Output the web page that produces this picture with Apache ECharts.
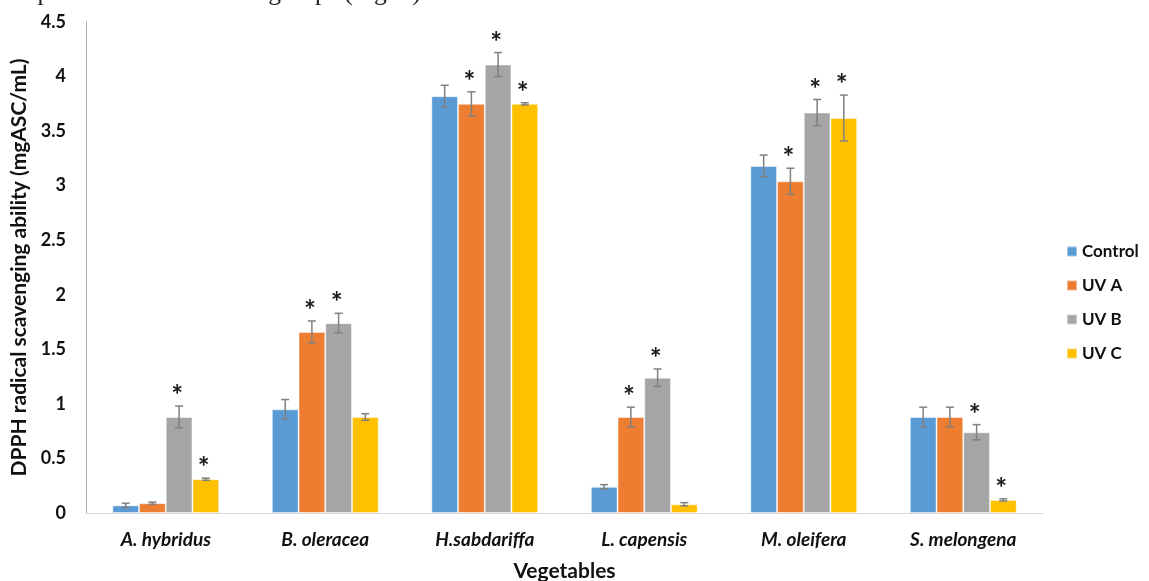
<!DOCTYPE html>
<html>
<head>
<meta charset="utf-8">
<style>
  html, body { margin: 0; padding: 0; background: #fff; }
  #chart { width: 1149px; height: 581px; }
</style>
<script src="https://cdn.jsdelivr.net/npm/echarts@6/dist/echarts.min.js"></script>
</head>
<body>
<div id="chart"></div>
<script>
// Vegetables and DPPH radical scavenging ability (mgASC/mL) per treatment
const categories = ['A. hybridus', 'B. oleracea', 'H.sabdariffa', 'L. capensis', 'M. oleifera', 'S. melongena'];
const seriesNames = ['Control', 'UV A', 'UV B', 'UV C'];

const controlValues = [0.07, 0.95, 3.82, 0.24, 3.18, 0.88];
const uvAValues     = [0.09, 1.66, 3.75, 0.88, 3.04, 0.88];
const uvBValues     = [0.88, 1.74, 4.11, 1.24, 3.67, 0.74];
const uvCValues     = [0.31, 0.88, 3.75, 0.08, 3.62, 0.12];

// standard error for each bar
const controlErr = [0.02, 0.09, 0.10, 0.02, 0.10, 0.09];
const uvAErr     = [0.01, 0.10, 0.11, 0.09, 0.12, 0.09];
const uvBErr     = [0.10, 0.09, 0.11, 0.08, 0.12, 0.07];
const uvCErr     = [0.01, 0.03, 0.01, 0.015, 0.21, 0.01];

// 1 = significant difference from control (marked with *)
const controlSig = [0, 0, 0, 0, 0, 0];
const uvASig     = [0, 1, 1, 1, 1, 0];
const uvBSig     = [1, 1, 1, 1, 1, 1];
const uvCSig     = [1, 0, 1, 0, 1, 1];

const yTicks = { min: 0, max: 4.5, interval: 0.5 };

const colors = ['#5B9BD5', '#ED7D31', '#A5A5A5', '#FFC000'];
const groupValues = [controlValues, uvAValues, uvBValues, uvCValues];
const groupErr = [controlErr, uvAErr, uvBErr, uvCErr];
const groupSig = [controlSig, uvASig, uvBSig, uvCSig];

const CATEGORY_GAP = 0.33;
const FONT = 'Lato, "Open Sans", sans-serif';

const barSeries = seriesNames.map((name, i) => ({
  name: name,
  type: 'bar',
  data: groupValues[i],
  barGap: '0%',
  barCategoryGap: (CATEGORY_GAP * 100) + '%',
  itemStyle: { color: colors[i], borderColor: 'rgba(255,255,255,0.45)', borderWidth: 1 },
  z: 2
}));

// error bars and significance stars, aligned with each bar of the group
const errorSeries = seriesNames.map((name, i) => ({
  name: name + ' error',
  type: 'custom',
  z: 5,
  silent: true,
  data: categories.map((c, k) => [k, groupValues[i][k], groupErr[i][k], groupSig[i][k]]),
  renderItem: function (params, api) {
    const idx = api.value(0);
    const v = api.value(1);
    const e = api.value(2);
    const sig = api.value(3);
    const band = api.size([1, 0])[0];
    const barW = band * (1 - CATEGORY_GAP) / seriesNames.length;
    const dx = (i - (seriesNames.length - 1) / 2) * barW;
    const hi = api.coord([idx, v + e]);
    const lo = api.coord([idx, v - e]);
    const x = hi[0] + dx;
    const cap = 4;
    const style = { stroke: '#808080', lineWidth: 1.5 };
    const children = [
      { type: 'line', shape: { x1: x, y1: hi[1], x2: x, y2: lo[1] }, style: style },
      { type: 'line', shape: { x1: x - cap, y1: hi[1], x2: x + cap, y2: hi[1] }, style: style },
      { type: 'line', shape: { x1: x - cap, y1: lo[1], x2: x + cap, y2: lo[1] }, style: style }
    ];
    if (sig) {
      children.push({
        type: 'text',
        style: {
          text: '*', x: x - 2, y: hi[1] - 10,
          fill: '#1a1a1a', font: 'bold 28px ' + FONT,
          textAlign: 'center', textVerticalAlign: 'middle'
        }
      });
    }
    return { type: 'group', children: children };
  }
}));

const chart = echarts.init(document.getElementById('chart'), null, { renderer: 'canvas' });
chart.setOption({
  animation: false,
  color: colors,
  textStyle: { fontFamily: FONT },
  graphic: [{
    type: 'text',
    x: 427, y: -7,
    style: {
      text: 'compared with the control groups (Fig. 4).',
      font: '25.5px "Liberation Serif", serif',
      fill: '#222',
      textAlign: 'right',
      textVerticalAlign: 'middle'
    }
  }],
  grid: { left: 86, right: 106, top: 22, bottom: 68, outerBoundsMode: 'none', containLabel: false },
  legend: {
    orient: 'vertical',
    left: 1066,
    top: 243,
    padding: 0,
    data: seriesNames,
    icon: 'rect',
    itemWidth: 10,
    itemHeight: 10,
    itemGap: 17,
    textStyle: { fontSize: 17, fontWeight: 'bold', color: '#111', lineHeight: 17, fontFamily: FONT }
  },
  xAxis: {
    type: 'category',
    data: categories,
    name: 'Vegetables',
    nameLocation: 'middle',
    nameGap: 48,
    nameTextStyle: { fontSize: 21, fontWeight: 'bold', color: '#111', fontFamily: FONT },
    axisLine: { lineStyle: { color: '#d9d9d9', width: 1 } },
    axisTick: { show: false },
    axisLabel: { fontSize: 19, fontWeight: 'bold', fontStyle: 'italic', color: '#111', margin: 17, fontFamily: FONT, interval: 0 }
  },
  yAxis: {
    type: 'value',
    min: yTicks.min,
    max: yTicks.max,
    interval: yTicks.interval,
    name: 'DPPH radical scavenging ability (mgASC/mL)',
    nameLocation: 'middle',
    nameGap: 52,
    nameTextStyle: { fontSize: 21, fontWeight: 'bold', color: '#111', fontFamily: FONT },
    axisLine: { show: true, lineStyle: { color: '#b0b0b0', width: 1 } },
    axisTick: { show: false },
    splitLine: { show: false },
    axisLabel: { fontSize: 18, fontWeight: 'bold', color: '#111', margin: 20, fontFamily: FONT }
  },
  series: barSeries.concat(errorSeries)
});
</script>
</body>
</html>
